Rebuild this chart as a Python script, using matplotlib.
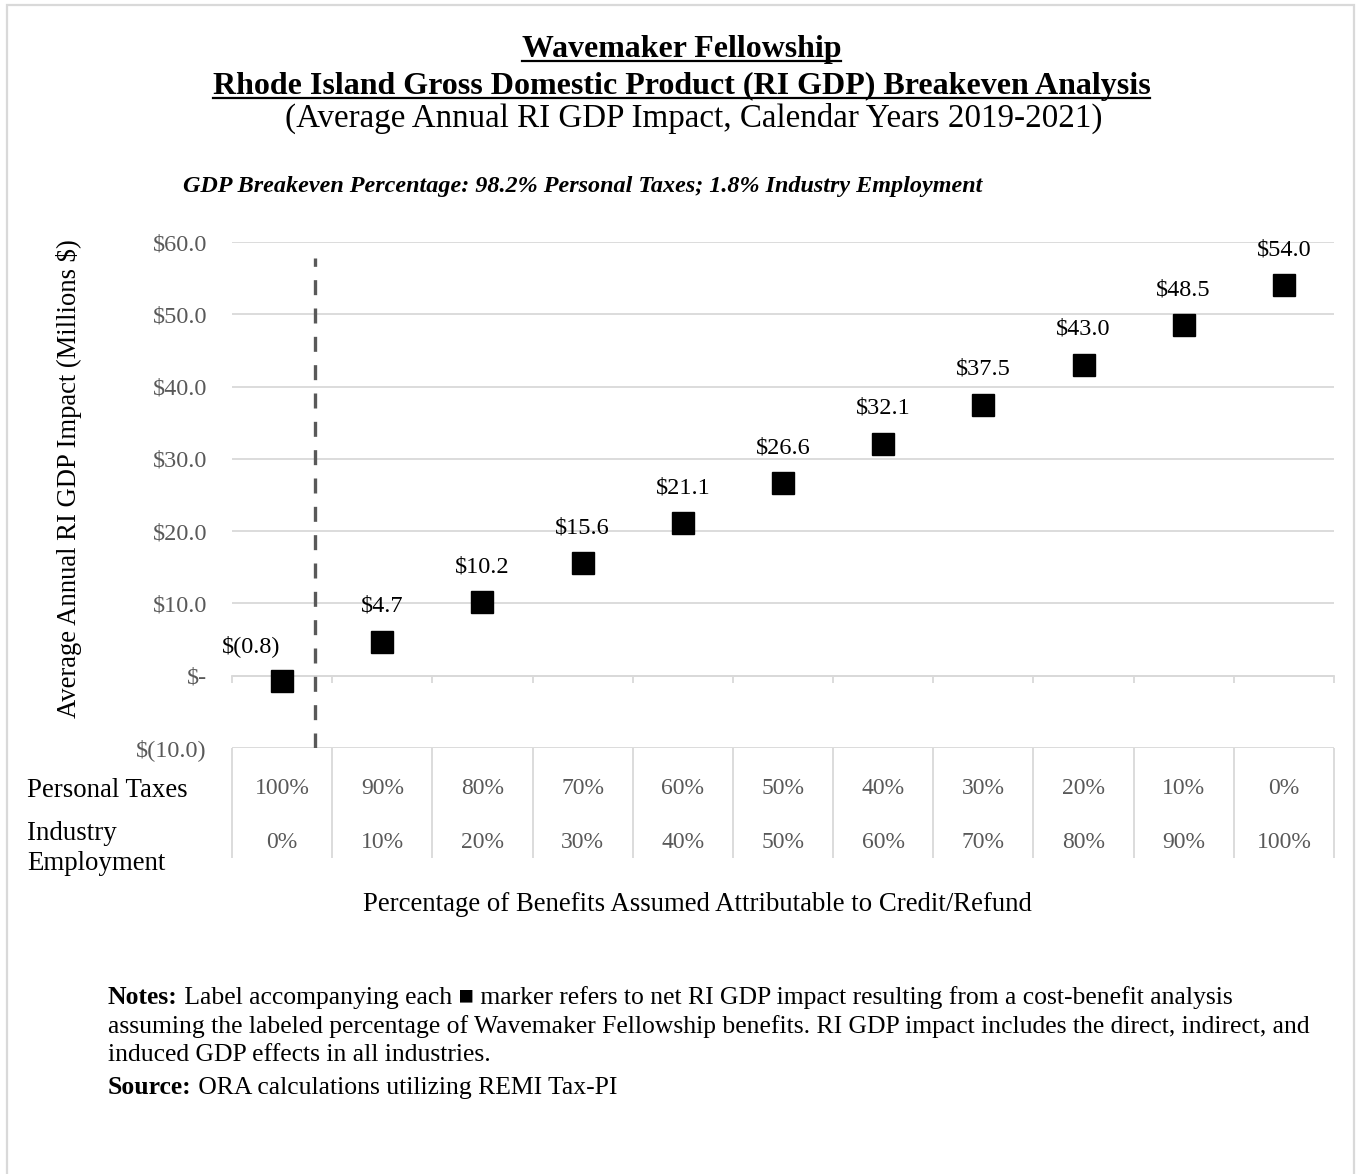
import matplotlib
matplotlib.use("Agg")
import matplotlib.pyplot as plt
import matplotlib.transforms as mtransforms
from matplotlib.patches import Rectangle
from matplotlib.lines import Line2D

# ---------------- data ----------------
personal_taxes = ["100%", "90%", "80%", "70%", "60%", "50%", "40%", "30%", "20%", "10%", "0%"]
industry_employment = ["0%", "10%", "20%", "30%", "40%", "50%", "60%", "70%", "80%", "90%", "100%"]
gdp_impact = [-0.8, 4.7, 10.2, 15.6, 21.1, 26.6, 32.1, 37.5, 43.0, 48.5, 54.0]
y_ticks = [-10, 0, 10, 20, 30, 40, 50, 60]
breakeven_pos = 0.33  # position of breakeven line between first two categories

W, H = 1357, 1174
plt.rcParams['font.family'] = ['Liberation Serif', 'DejaVu Serif']
plt.rcParams['lines.scale_dashes'] = False

GRID = '#d9d9d9'
GRAY = '#595959'
FS_SMALL = 17.5

fig = plt.figure(figsize=(W / 100, H / 100), dpi=100)
fig.patch.set_facecolor('white')

def fx(px):
    return px / W

def fy(py):
    return 1 - py / H

# border (top, left, right visible)
fig.patches.append(Rectangle((fx(7), fy(1190)), fx(1354) - fx(7), fy(5) - fy(1190),
                             transform=fig.transFigure, fill=False, edgecolor=GRID, lw=1.6))

ax = fig.add_axes([fx(232), fy(748), fx(1334) - fx(232), fy(242) - fy(748)])
n = len(gdp_impact)
xs = list(range(n))
ax.set_xlim(-0.5, n - 0.5)
ax.set_ylim(-10, 60)

for s in ['top', 'right', 'left']:
    ax.spines[s].set_visible(False)
ax.spines['bottom'].set_position(('data', 0))
ax.spines['bottom'].set_color(GRID)
ax.spines['bottom'].set_linewidth(1.3)
ax.set_xticks([i - 0.5 for i in range(n + 1)])
ax.set_xticklabels([])
ax.tick_params(axis='x', direction='out', length=5, width=1.3, color=GRID)

ax.set_yticks(y_ticks)
def fmt(v):
    if v == 0:
        return "$-"
    if v < 0:
        return "$(%.1f)" % abs(v)
    return "$%.1f" % v
ax.set_yticklabels([fmt(v) for v in y_ticks], color=GRAY, fontsize=FS_SMALL)
ax.tick_params(axis='y', length=0, pad=18)
ax.yaxis.grid(True, color=GRID, lw=1.3)
ax.set_axisbelow(True)

# breakeven dashed line
ax.vlines(breakeven_pos, -10, 57.8, colors=GRAY, lw=2.4, linestyles=[(0, (10.8, 9.6))], zorder=3)

# markers
ax.plot(xs, gdp_impact, linestyle='none', marker='s', markersize=15.5, color='black', zorder=4)
for i, v in enumerate(gdp_impact):
    dx = -22 if v < 0 else 0
    ax.annotate(fmt(v), (i, v), xytext=(dx, 25.5), textcoords='offset points',
                ha='center', va='center', fontsize=FS_SMALL, color='black', zorder=5)

# table below the axis
blend = mtransforms.blended_transform_factory(ax.transData, ax.transAxes)
tab_bottom = (748 - 858) / (748 - 242)
ax.vlines([i - 0.5 for i in range(n + 1)], tab_bottom, 0, transform=blend,
          colors=GRID, lw=1.3, clip_on=False)
row1_y = (748 - 789) / (748 - 242)
row2_y = (748 - 843) / (748 - 242)
for i in range(n):
    ax.text(i, row1_y, personal_taxes[i], transform=blend, ha='center', va='center',
            fontsize=FS_SMALL - 0.5, color=GRAY)
    ax.text(i, row2_y, industry_employment[i], transform=blend, ha='center', va='center',
            fontsize=FS_SMALL - 0.5, color=GRAY)

renderer = None
def width_of(t, vertical=False):
    global renderer
    fig.canvas.draw()
    renderer = fig.canvas.get_renderer()
    bb = t.get_window_extent(renderer)
    return bb.height if vertical else bb.width

def fit(t, target, vertical=False):
    for _ in range(2):
        w = width_of(t, vertical)
        t.set_fontsize(t.get_fontsize() * target / w)
    return t.get_fontsize()

def place(s, x0, x1, base, underline=None, **kw):
    t = fig.text(fx(x0), fy(base), s, ha='left', va='baseline', fontsize=18, **kw)
    fit(t, x1 - x0)
    if underline is not None:
        fig.lines.append(Line2D([fx(x0), fx(x1)], [fy(underline), fy(underline)],
                                transform=fig.transFigure, color='black', lw=1.6))
    return t

# titles
place("Wavemaker Fellowship", 522, 841, 57, underline=61, fontweight='bold')
place("Rhode Island Gross Domestic Product (RI GDP) Breakeven Analysis", 213, 1150, 94,
      underline=98, fontweight='bold')
place("(Average Annual RI GDP Impact, Calendar Years 2019-2021)", 285, 1104, 127)
place("GDP Breakeven Percentage: 98.2% Personal Taxes; 1.8% Industry Employment", 183, 980, 192,
      fontweight='bold', style='italic')

# y label
yl = fig.text(fx(69), fy(479), "Average Annual RI GDP Impact (Millions $)", rotation=90,
              ha='center', va='center', fontsize=17)
fit(yl, 718 - 240, vertical=True)

# row labels
pt = place("Personal Taxes", 27, 188, 797)
fs_row = pt.get_fontsize()
fig.text(fx(27), fy(840), "Industry", ha='left', va='baseline', fontsize=fs_row)
fig.text(fx(27), fy(870), "Employment", ha='left', va='baseline', fontsize=fs_row)

# x label
place("Percentage of Benefits Assumed Attributable to Credit/Refund", 363, 1032, 911)

# notes
l2 = place("assuming the labeled percentage of Wavemaker Fellowship benefits. RI GDP impact includes the direct, indirect, and",
           108, 1310, 1033)
fs_n = l2.get_fontsize()
nb = fig.text(fx(108), fy(1004), "Notes:", ha='left', va='baseline', fontsize=fs_n, fontweight='bold')
w_nb = width_of(nb)
fig.text(fx(108 + w_nb), fy(1004),
         " Label accompanying each \u25a0 marker refers to net RI GDP impact resulting from a cost-benefit analysis",
         ha='left', va='baseline', fontsize=fs_n)
fig.text(fx(108), fy(1061), "induced GDP effects in all industries.", ha='left', va='baseline', fontsize=fs_n)
sb = fig.text(fx(108), fy(1094), "Source:", ha='left', va='baseline', fontsize=fs_n, fontweight='bold')
w_sb = width_of(sb)
fig.text(fx(108 + w_sb), fy(1094), " ORA calculations utilizing REMI Tax-PI",
         ha='left', va='baseline', fontsize=fs_n)

fig.savefig("out.png", dpi=100)
